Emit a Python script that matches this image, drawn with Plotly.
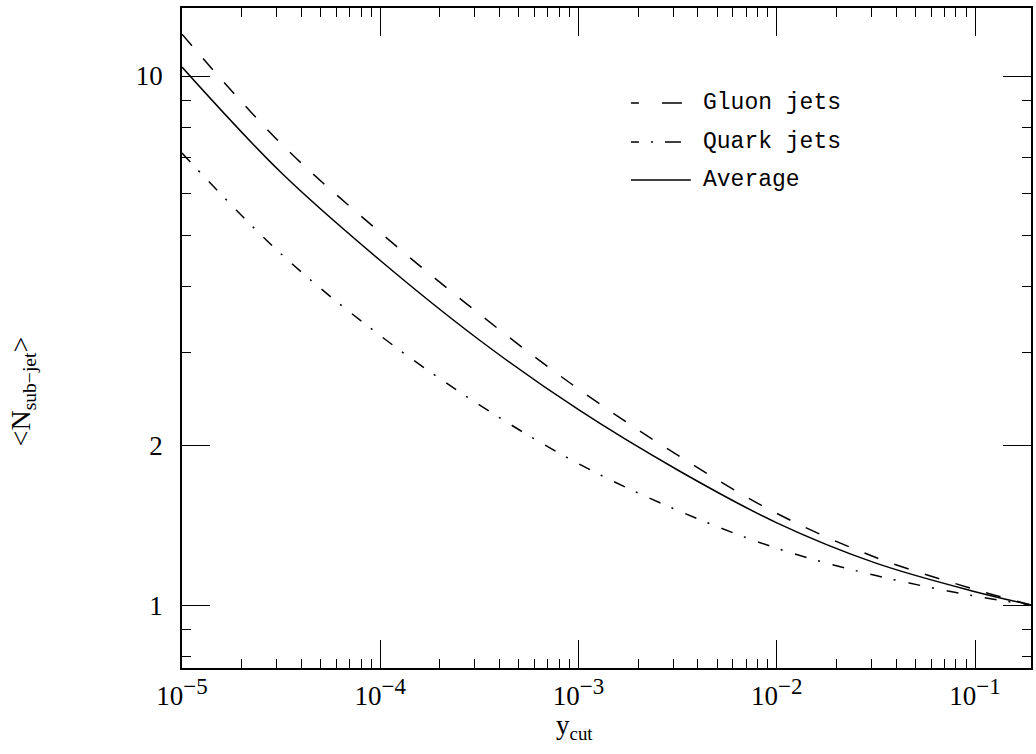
import plotly.graph_objects as go

# ---- data ----
y_cut = [1e-5, 3.16e-5, 1e-4, 3.16e-4, 1e-3, 3.16e-3, 1e-2, 3.16e-2, 1e-1, 0.192]
gluon_jets = [12.0, 7.45, 5.06, 3.55, 2.56, 1.92, 1.49, 1.23, 1.07, 1.0]
quark_jets = [7.15, 4.61, 3.23, 2.39, 1.85, 1.51, 1.28, 1.137, 1.04, 1.0]
average = [10.4, 6.57, 4.48, 3.17, 2.34, 1.80, 1.43, 1.20, 1.06, 1.0]

x_tickvals = [1e-5, 1e-4, 1e-3, 1e-2, 1e-1]
x_exponents = ["\u22125", "\u22124", "\u22123", "\u22122", "\u22121"]
y_tickvals = [1, 2, 10]
y_ticktext = ["1", "2", "10"]
x_minor = [m * 10.0 ** e for e in range(-5, 0) for m in range(2, 10)]
y_minor = [0.8, 0.9, 3, 4, 5, 6, 7, 8, 9]

legend_names = ["Gluon jets", "Quark jets", "Average"]

x_ticktext = ['10<sup><span style="font-size:23px">%s</span></sup>' % e for e in x_exponents]

# ---- layout geometry ----
W, H = 1036, 754
ML, MR, MT, MB = 182, 3, 8, 86
PW, PH = W - ML - MR, H - MT - MB


def px(x):
    return (x - ML) / PW


def py(y):
    return (H - MB - y) / PH


SERIF = "Liberation Serif"
MONO = "Liberation Mono"

GLUON_DASH = "15px,17px"
QUARK_DASH = "12px,12px,2px,13px"

fig = go.Figure()
fig.add_trace(go.Scatter(x=y_cut, y=gluon_jets, mode="lines", name=legend_names[0],
                         line=dict(color="black", width=1.5, dash=GLUON_DASH, shape="spline")))
fig.add_trace(go.Scatter(x=y_cut, y=quark_jets, mode="lines", name=legend_names[1],
                         line=dict(color="black", width=1.5, dash=QUARK_DASH, shape="spline")))
fig.add_trace(go.Scatter(x=y_cut, y=average, mode="lines", name=legend_names[2],
                         line=dict(color="black", width=1.5, shape="spline")))

axis_common = dict(
    showline=True, linecolor="black", linewidth=1.5, mirror="ticks",
    ticks="inside", ticklen=28, tickwidth=1.3, tickcolor="black",
    showgrid=False, zeroline=False,
    tickfont=dict(family=SERIF, size=27, color="black"),
)

fig.update_xaxes(type="log", range=[-5, -0.718], tickmode="array",
                 tickvals=x_tickvals, ticktext=x_ticktext, ticklabelstandoff=3,
                 minor=dict(tickmode="array", tickvals=x_minor, ticks="inside",
                            ticklen=9, tickwidth=1.2, tickcolor="black"),
                 **axis_common)
fig.update_yaxes(type="log", range=[-0.119, 1.1286], tickmode="array",
                 tickvals=y_tickvals, ticktext=y_ticktext, ticklabelstandoff=12,
                 minor=dict(tickmode="array", tickvals=y_minor, ticks="inside",
                            ticklen=9, tickwidth=1.2, tickcolor="black"),
                 **axis_common)

# legend drawn as keys + labels
key_rows = [103, 142, 180]
key_dashes = ["8px,23px,20px,200px", "8px,12px,2px,12px,16px,200px", "solid"]
shapes = []
annotations = []
for name, yrow, dsh in zip(legend_names, key_rows, key_dashes):
    shapes.append(dict(type="line", xref="paper", yref="paper",
                       x0=px(632), x1=px(692), y0=py(yrow), y1=py(yrow),
                       line=dict(color="black", width=1.4, dash=dsh)))
    annotations.append(dict(xref="paper", yref="paper", x=px(702), y=py(yrow),
                            xanchor="left", yanchor="middle", showarrow=False,
                            text=name, font=dict(family=MONO, size=23, color="black")))

# axis titles
annotations.append(dict(xref="paper", yref="paper", x=px(575), y=py(727),
                        xanchor="center", yanchor="middle", showarrow=False,
                        text="y<sub>cut</sub>",
                        font=dict(family=SERIF, size=27, color="black")))
annotations.append(dict(xref="paper", yref="paper", x=px(22), y=py(391),
                        xanchor="center", yanchor="middle", showarrow=False,
                        textangle=-90, text="&lt;N<sub>sub\u2212jet</sub>&gt;",
                        font=dict(family=SERIF, size=28, color="black")))

fig.update_layout(
    width=W, height=H,
    margin=dict(l=ML, r=MR, t=MT, b=MB),
    paper_bgcolor="white", plot_bgcolor="white",
    showlegend=False,
    shapes=shapes, annotations=annotations,
)

fig.write_html("out.html", config={"displayModeBar": False},
               post_script="document.body.style.margin='0';document.body.style.padding='0';")
